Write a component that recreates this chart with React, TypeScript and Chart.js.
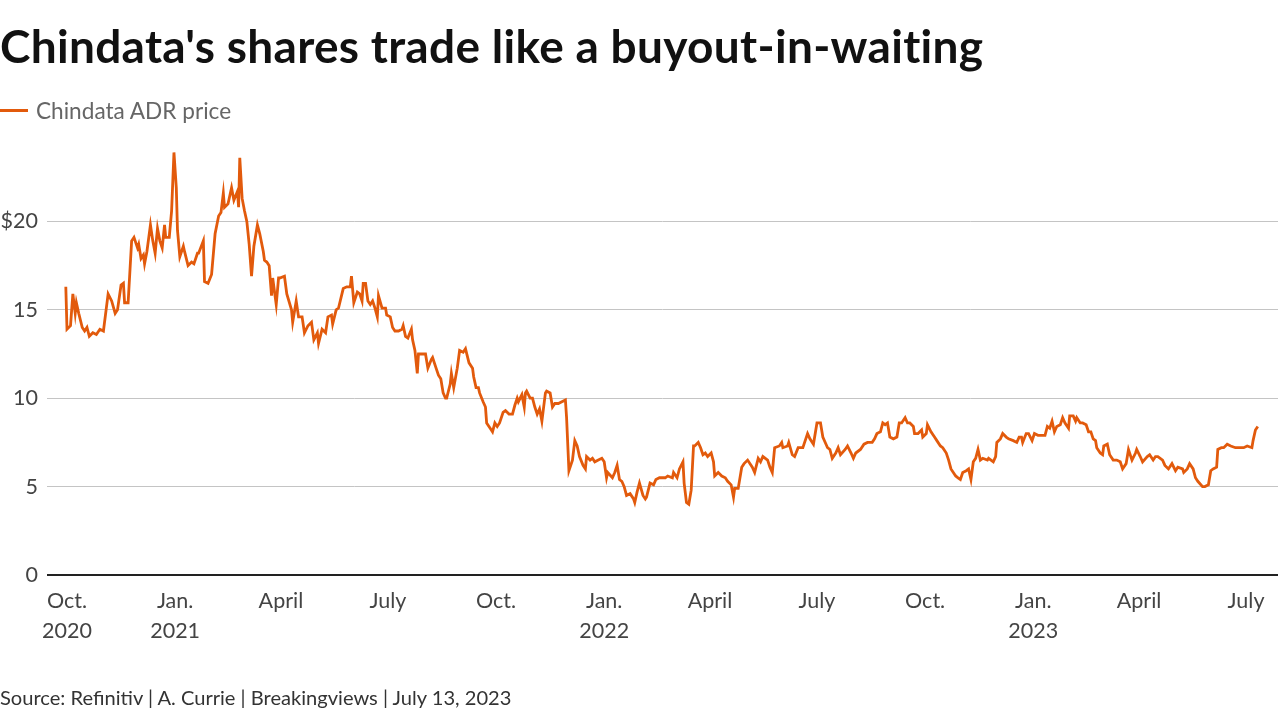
import React, { useEffect, useRef } from "react";
import { Chart, registerables } from "chart.js";

Chart.register(...registerables);

// Days since the IPO (Sept. 30, 2020 = day 0)
const days: number[] = [
  0, 1, 4, 6, 8, 9, 11, 14, 16, 18, 20, 23, 26, 29, 32, 36, 39, 42, 44, 47, 49, 50, 53, 56, 58, 61, 62, 64, 66, 67, 69,
  72, 74, 76, 78, 80, 82, 84, 85, 88, 90, 92, 94, 95, 97, 100, 101, 104, 107, 109, 112, 113, 117, 118, 121, 124, 127,
  130, 132, 134, 135, 138, 141, 143, 146, 147, 148, 150, 152, 154, 156, 158, 160, 163, 165, 168, 169, 171, 173, 175,
  176, 179, 181, 182, 186, 188, 192, 193, 196, 198, 201, 203, 206, 209, 211, 214, 215, 218, 221, 223, 226, 227, 230,
  232, 236, 239, 242, 243, 245, 248, 250, 252, 253, 255, 257, 259, 261, 263, 265, 266, 269, 272, 273, 276, 278, 280,
  283, 286, 287, 289, 291, 294, 295, 297, 299, 300, 304, 306, 308, 311, 312, 315, 317, 319, 321, 323, 324, 327, 328,
  330, 333, 335, 338, 340, 343, 346, 347, 349, 351, 352, 355, 357, 358, 361, 363, 365, 367, 369, 372, 374, 377, 380,
  382, 384, 385, 388, 390, 391, 392, 395, 397, 399, 401, 403, 405, 408, 409, 412, 414, 416, 419, 422, 425, 426, 428,
  431, 433, 435, 437, 440, 442, 443, 446, 448, 450, 453, 456, 458, 460, 461, 465, 467, 469, 471, 473, 475, 477, 480,
  483, 484, 486, 488, 491, 493, 494, 497, 500, 502, 505, 510, 512, 516, 517, 520, 522, 525, 526, 528, 530, 532, 534,
  535, 538, 540, 542, 544, 546, 549, 551, 552, 555, 558, 561, 563, 566, 568, 569, 572, 575, 577, 580, 584, 586, 589,
  591, 593, 597, 599, 601, 603, 607, 609, 610, 614, 615, 618, 620, 623, 627, 631, 633, 636, 639, 642, 644, 648, 650,
  652, 655, 657, 659, 663, 665, 668, 670, 672, 676, 679, 682, 686, 688, 690, 693, 695, 697, 699, 701, 704, 707, 709,
  711, 714, 716, 718, 721, 722, 725, 728, 729, 732, 733, 736, 739, 741, 744, 746, 749, 751, 753, 755, 757, 759, 761,
  763, 766, 768, 770, 772, 774, 776, 778, 780, 784, 785, 789, 791, 792, 795, 797, 800, 802, 806, 809, 811, 813, 814,
  817, 819, 822, 824, 827, 830, 833, 835, 837, 839, 841, 843, 846, 848, 850, 853, 854, 857, 859, 860, 863, 865, 868,
  870, 872, 874, 876, 877, 880, 882, 883, 886, 888, 891, 894, 897, 899, 902, 904, 907, 910, 911, 914, 916, 920, 922,
  925, 927, 929, 933, 935, 938, 941, 944, 946, 950, 951, 954, 956, 959, 961, 963, 967, 969, 972, 974, 976, 979, 980,
  983, 985, 988, 991, 995, 999, 1002, 1005, 1009, 1010, 1012, 1014,
];

// Chindata ADR price, $
const prices: number[] = [
  16.3, 13.9, 14.1, 15.9, 14.8, 15.4, 14.8, 14.0, 13.8, 14.0, 13.5, 13.7, 13.6, 13.9, 13.8, 15.9, 15.5, 14.8, 15.0, 16.4,
  16.5, 15.4, 15.4, 18.9, 19.1, 18.5, 18.7, 17.9, 18.1, 17.6, 18.3, 19.8, 18.9, 18.2, 19.6, 18.9, 18.5, 19.8, 19.1,
  19.1, 20.6, 23.9, 21.9, 19.5, 18.0, 18.6, 18.3, 17.5, 17.7, 17.6, 18.2, 18.2, 18.9, 16.6, 16.5, 17.0, 19.3, 20.3,
  20.5, 21.6, 20.8, 21.0, 21.9, 21.2, 21.7, 20.8, 23.6, 21.3, 20.6, 20.0, 18.7, 16.9, 18.6, 19.8, 19.3, 18.3, 17.8,
  17.7, 17.5, 15.8, 16.8, 15.3, 16.8, 16.8, 16.9, 15.9, 15.0, 14.3, 15.5, 14.6, 14.6, 13.7, 14.1, 14.3, 13.3, 13.7,
  13.1, 13.9, 13.7, 14.6, 14.7, 14.2, 15.0, 15.1, 16.2, 16.3, 16.3, 16.9, 15.4, 16.0, 15.9, 15.5, 16.5, 16.5, 15.5,
  15.3, 15.5, 15.1, 14.6, 15.8, 15.1, 15.1, 14.7, 14.6, 14.0, 13.8, 13.8, 13.9, 14.1, 13.5, 13.4, 13.9, 13.3, 12.7,
  11.4, 12.5, 12.5, 12.5, 11.7, 12.2, 12.3, 11.7, 11.3, 11.1, 10.3, 10.0, 10.0, 10.8, 11.4, 10.6, 11.7, 12.7, 12.6,
  12.8, 12.0, 11.7, 11.2, 10.6, 10.6, 10.3, 9.8, 9.5, 8.6, 8.3, 8.1, 8.6, 8.4, 8.6, 9.2, 9.3, 9.1, 9.1, 9.6, 10.0,
  9.8, 10.2, 9.5, 10.3, 10.4, 10.0, 10.0, 9.5, 9.1, 9.4, 8.7, 10.3, 10.4, 10.3, 9.5, 9.7, 9.7, 9.8, 9.9, 8.9, 5.9,
  6.5, 7.6, 7.3, 6.7, 6.2, 6.0, 6.7, 6.5, 6.6, 6.4, 6.5, 6.6, 6.4, 5.5, 5.8, 5.5, 5.8, 6.2, 5.4, 5.3, 5.0, 4.5, 4.6,
  4.3, 4.1, 4.7, 5.2, 4.5, 4.3, 4.4, 5.2, 5.1, 5.4, 5.5, 5.5, 5.6, 5.5, 5.8, 5.5, 6.0, 6.4, 5.2, 4.1, 4.0, 4.8, 7.3,
  7.3, 7.5, 7.2, 6.8, 6.9, 6.7, 6.9, 6.4, 5.6, 5.8, 5.6, 5.5, 5.3, 5.1, 4.4, 4.9, 4.9, 6.1, 6.3, 6.5, 6.1, 5.8, 6.6,
  6.4, 6.7, 6.5, 6.1, 5.8, 7.2, 7.3, 7.5, 7.2, 7.3, 7.5, 6.8, 6.7, 7.2, 7.2, 8.0, 7.7, 7.4, 8.6, 8.6, 7.8, 7.2, 7.1,
  6.6, 6.9, 7.2, 6.8, 7.1, 7.3, 6.9, 6.6, 6.9, 7.1, 7.4, 7.5, 7.5, 7.7, 8.0, 8.1, 8.6, 8.5, 8.6, 7.8, 7.7, 7.8, 8.6,
  8.6, 8.9, 8.6, 8.6, 8.4, 8.0, 8.0, 8.2, 7.8, 8.0, 8.5, 8.1, 7.8, 7.6, 7.3, 7.2, 6.9, 6.5, 6.0, 5.8, 5.6, 5.5, 5.4,
  5.8, 5.9, 6.0, 5.4, 6.4, 6.6, 7.1, 6.5, 6.6, 6.5, 6.6, 6.4, 6.7, 7.5, 7.7, 8.0, 7.8, 7.7, 7.6, 7.5, 7.8, 7.8, 7.5,
  8.0, 8.0, 7.6, 8.0, 7.9, 7.9, 7.9, 8.4, 8.3, 8.7, 8.1, 8.4, 8.5, 8.9, 8.6, 8.3, 9.0, 9.0, 8.7, 8.9, 8.6, 8.6, 8.5,
  8.1, 8.1, 7.7, 7.6, 7.2, 6.9, 6.8, 7.3, 7.4, 6.8, 6.5, 6.5, 6.4, 6.0, 6.3, 7.1, 6.5, 6.9, 7.1, 6.7, 6.4, 6.7, 6.8,
  6.5, 6.7, 6.7, 6.5, 6.2, 6.0, 6.3, 5.9, 6.1, 6.0, 5.8, 6.0, 6.3, 6.0, 5.5, 5.3, 5.0, 5.0, 5.1, 5.9, 6.0, 6.1, 7.1,
  7.2, 7.2, 7.4, 7.3, 7.2, 7.2, 7.2, 7.3, 7.2, 7.6, 8.2, 8.4,
];

// Quarter-start tick positions (days since Sept. 30, 2020) and their labels
const tickDays: number[] = [1, 93, 183, 274, 366, 458, 548, 639, 731, 823, 913, 1004];
const tickLabels: (string | string[])[] = [
  ["Oct.", "2020"], ["Jan.", "2021"], "April", "July", "Oct.", ["Jan.", "2022"],
  "April", "July", "Oct.", ["Jan.", "2023"], "April", "July",
];
const yTicks: number[] = [0, 5, 10, 15, 20];

const FONT = "Lato, 'Open Sans', sans-serif";
const ORANGE = "#e25a0c";

export default function App() {
  const ref = useRef<HTMLCanvasElement | null>(null);

  useEffect(() => {
    if (!ref.current) return;
    const points = days.map((d, i) => ({ x: d, y: prices[i] }));
    const chart = new Chart(ref.current, {
      type: "line",
      data: {
        datasets: [
          {
            label: "Chindata ADR price",
            data: points,
            borderColor: ORANGE,
            borderWidth: 2.8,
            pointRadius: 0,
            tension: 0,
            fill: false,
          },
        ],
      },
      options: {
        animation: false,
        responsive: false,
        layout: { padding: { top: 133, right: 2, left: 0, bottom: 0 } },
        plugins: { legend: { display: false }, tooltip: { enabled: false } },
        scales: {
          x: {
            type: "linear",
            min: -16,
            max: 1031.2,
            afterBuildTicks: (scale: any) => {
              scale.ticks = tickDays.map((v) => ({ value: v }));
            },
            afterFit: (scale: any) => {
              scale.height = 146;
            },
            grid: { display: false, drawTicks: false },
            border: { display: false },
            ticks: {
              autoSkip: false,
              maxRotation: 0,
              padding: 11,
              color: "#444",
              font: { family: FONT, size: 21.5, lineHeight: 1.4 },
              callback: (value: any) => {
                const i = tickDays.indexOf(Number(value));
                return i >= 0 ? tickLabels[i] : "";
              },
            },
          },
          y: {
            min: 0,
            max: 25,
            afterBuildTicks: (scale: any) => {
              scale.ticks = yTicks.map((v) => ({ value: v }));
            },
            afterFit: (scale: any) => {
              scale.width = 47;
            },
            border: { display: false },
            grid: {
              drawTicks: false,
              color: (ctx: any) => (ctx.tick && ctx.tick.value === 0 ? "#222" : "#c4c4c4"),
              lineWidth: (ctx: any) => (ctx.tick && ctx.tick.value === 0 ? 2 : 1),
            },
            ticks: {
              padding: 9,
              color: "#444",
              font: { family: FONT, size: 21.5 },
              callback: (value: any) => (Number(value) === 20 ? "$20" : String(value)),
            },
          },
        },
      },
    });
    return () => chart.destroy();
  }, []);

  return (
    <div
      style={{
        position: "fixed",
        left: 0,
        top: 0,
        width: 1280,
        height: 721,
        background: "#fff",
        overflow: "hidden",
        fontFamily: FONT,
      }}
    >
      <canvas ref={ref} width={1280} height={721} style={{ position: "absolute", left: 0, top: 0 }} />
      <div
        style={{
          position: "absolute",
          left: 0,
          top: 17,
          fontSize: 46,
          fontWeight: 700,
          color: "#111",
          whiteSpace: "nowrap",
          lineHeight: "58px",
          letterSpacing: "0.3px",
        }}
      >
        Chindata's shares trade like a buyout-in-waiting
      </div>
      <div
        style={{
          position: "absolute",
          left: 0,
          top: 96,
          height: 28,
          display: "flex",
          alignItems: "center",
          whiteSpace: "nowrap",
        }}
      >
        <span style={{ display: "inline-block", width: 28, height: 3, background: ORANGE, marginRight: 8 }} />
        <span style={{ fontSize: 22.6, color: "#666" }}>Chindata ADR price</span>
      </div>
      <div
        style={{
          position: "absolute",
          left: 0,
          top: 684,
          fontSize: 20.1,
          color: "#333",
          whiteSpace: "nowrap",
          lineHeight: "26px",
        }}
      >
        Source: Refinitiv | A. Currie | Breakingviews | July 13, 2023
      </div>
    </div>
  );
}
